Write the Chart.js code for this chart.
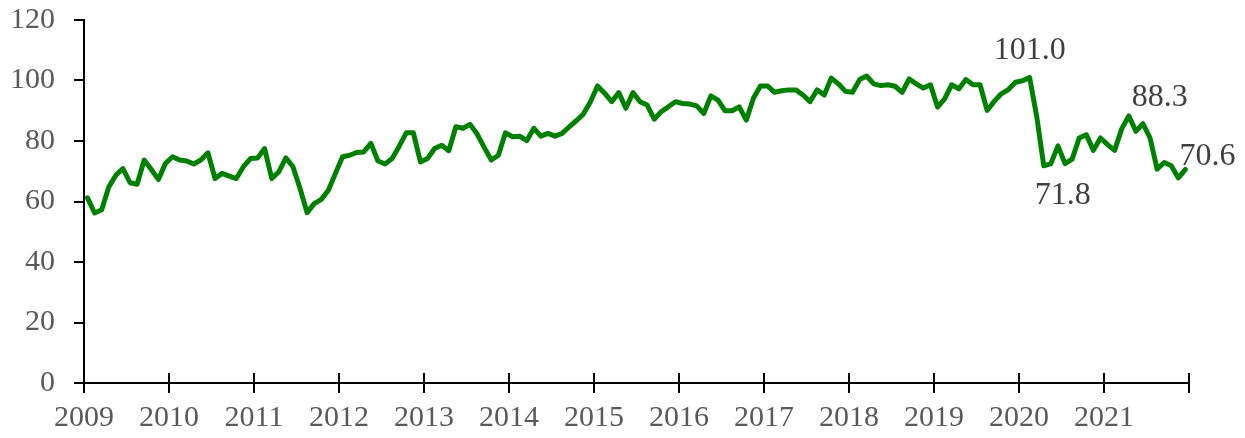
<!DOCTYPE html>
<html><head><meta charset="utf-8">
<script src="https://cdn.jsdelivr.net/npm/chart.js@4.4.0/dist/chart.umd.min.js"></script>
<style>html,body{margin:0;padding:0;background:#fff;}#wrap{width:1245px;height:438px;}</style>
</head><body><div id="wrap"><canvas id="c" width="1245" height="438"></canvas></div>
<script>
const years = ['2009','2010','2011','2012','2013','2014','2015','2016','2017','2018','2019','2020','2021'];
const yTicks = [0,20,40,60,80,100,120];
const values = [
  61.2,56.2,57.3,64.8,68.7,70.9,66.2,65.7,73.7,70.6,67.3,72.6,
  74.8,73.7,73.4,72.4,73.7,76.1,67.6,69.3,68.4,67.6,71.5,74.2,
  74.4,77.5,67.6,69.8,74.4,71.5,64.3,56.3,59.3,60.7,63.7,69.3,
  74.8,75.3,76.2,76.4,79.2,73.4,72.4,74.2,78.3,82.7,82.7,73.1,
  74.2,77.5,78.6,76.8,84.7,84.2,85.5,82.3,77.9,73.7,75.3,82.7,
  81.4,81.6,80.1,84.2,81.6,82.5,81.6,82.5,84.7,86.7,88.9,93.0,
  98.2,95.8,93.0,96.0,90.8,96.0,93.0,91.9,87.2,89.7,91.3,93.0,
  92.4,92.2,91.6,89.1,94.9,93.5,90.0,90.0,91.3,86.9,94.1,98.2,
  98.2,96.1,96.6,96.9,96.9,95.2,93.0,96.9,95.2,100.8,98.9,96.4,
  96.1,100.3,101.5,98.9,98.3,98.6,98.1,96.1,100.5,98.9,97.5,98.6,
  91.2,93.9,98.6,97.2,100.3,98.6,98.6,90.1,93.1,95.6,97.0,99.4,
  99.9,101.0,88.1,71.8,72.5,78.4,72.5,74.0,81.0,82.1,76.9,81.0,
  78.8,76.9,84.0,88.3,83.2,85.7,81.0,70.7,72.9,71.8,67.8,70.6
];
const labelMonths = [133,135,147,155];

const FONT = '"Liberation Serif","Times New Roman",serif';
const TXT = '#595959';
const labelOffsets = {133:[0,-27],135:[19,30],147:[31,-18],155:[22,-13]};

const crossTicks = {
  id:'crossTicks',
  afterDraw(chart){
    const s = chart.scales.x, ctx = chart.ctx, b = chart.chartArea.bottom;
    ctx.save(); ctx.strokeStyle='#000'; ctx.lineWidth=2;
    s.ticks.forEach(t=>{const px=s.getPixelForValue(t.value);ctx.beginPath();ctx.moveTo(px,b-10);ctx.lineTo(px,b);ctx.stroke();});
    ctx.restore();
  }
};
const pointLabels = {
  id:'pointLabels',
  afterDatasetsDraw(chart){
    const ctx=chart.ctx, xs=chart.scales.x, ys=chart.scales.y;
    ctx.save(); ctx.font='32px '+FONT; ctx.fillStyle='#404040'; ctx.textAlign='center'; ctx.textBaseline='middle';
    labelMonths.forEach(i=>{
      const px=xs.getPixelForValue(i+0.5), py=ys.getPixelForValue(values[i]);
      const o=labelOffsets[i];
      ctx.fillText(values[i].toFixed(1), px+o[0], py+o[1]);
    });
    ctx.restore();
  }
};

new Chart(document.getElementById('c'),{
  type:'line',
  data:{datasets:[{
    data: values.map((v,i)=>({x:i+0.5,y:v})),
    borderColor:'#008000', borderWidth:5, pointRadius:0, tension:0,
    borderJoinStyle:'round', borderCapStyle:'round', fill:false
  }]},
  options:{
    responsive:false, animation:false, devicePixelRatio:1,
    layout:{padding:{top:20,right:56,left:0,bottom:0}},
    plugins:{legend:{display:false},tooltip:{enabled:false}},
    scales:{
      x:{type:'linear',min:0,max:156,
        afterBuildTicks(s){s.ticks=years.map((y,i)=>({value:i*12})).concat([{value:156}]);},
        ticks:{autoSkip:false,maxRotation:0,padding:7,color:TXT,font:{family:FONT,size:30},
          callback:(v)=>years[v/12]!==undefined?years[v/12]:''},
        grid:{drawOnChartArea:false,drawTicks:true,tickLength:10,color:'#000',lineWidth:2},
        border:{display:true,color:'#000',width:2},
        afterFit(s){s.height=55;s.paddingLeft=0;s.paddingRight=0;}
      },
      y:{min:0,max:120,
        afterBuildTicks(s){s.ticks=yTicks.map(v=>({value:v}));},
        ticks:{padding:19,color:TXT,font:{family:FONT,size:30}},
        grid:{drawOnChartArea:false,drawTicks:true,tickLength:10,color:'#000',lineWidth:2},
        border:{display:true,color:'#000',width:2},
        afterFit(s){s.width=84;s.paddingTop=0;s.paddingBottom=0;}
      }
    }
  },
  plugins:[crossTicks,pointLabels]
});
</script></body></html>
